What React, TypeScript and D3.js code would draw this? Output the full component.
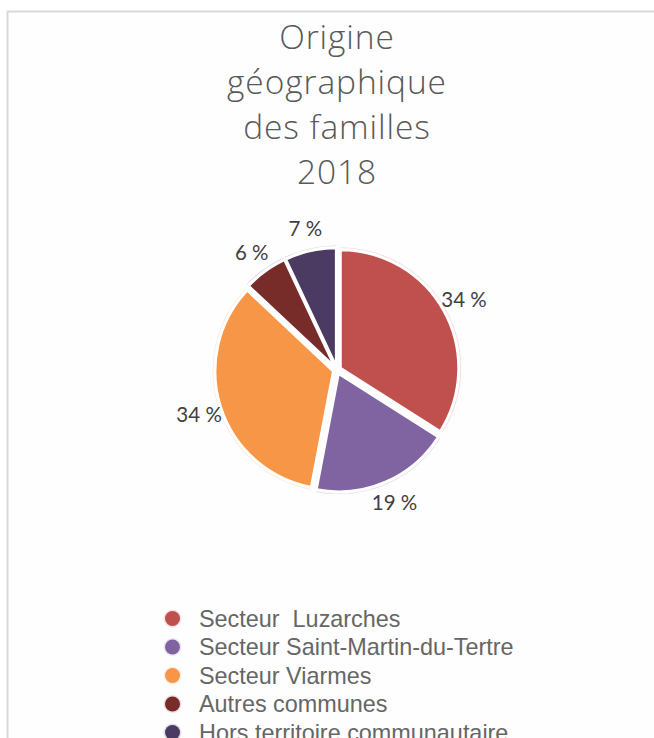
import React from "react";
import * as d3 from "d3";

const titleLines = ["Origine", "géographique", "des familles", "2018"];
const categories = [
  "Secteur  Luzarches",
  "Secteur Saint-Martin-du-Tertre",
  "Secteur Viarmes",
  "Autres communes",
  "Hors territoire communautaire",
];
const values = [34, 19, 34, 6, 7];
const labels = ["34 %", "19 %", "34 %", "6 %", "7 %"];
const colors = ["#c0504d", "#8064a2", "#f79646", "#772c2a", "#4b3a62"];

export default function App() {
  const W = 654, H = 738;
  const cx = 337, cy = 370, r = 118, explode = 4, labelR = 145;
  const pie = d3.pie<number>().sort(null).value((d) => d);
  const arcs = pie(values);
  const arcGen = d3.arc<d3.PieArcDatum<number>>().innerRadius(0).outerRadius(r);
  const ringGen = d3.arc<d3.PieArcDatum<number>>().innerRadius(r + 2).outerRadius(r + 2.6);
  const legendY = d3.scaleLinear().domain([0, 4]).range([626.5, 740.5]);

  return (
    <svg width={W} height={H} style={{ position: "absolute", left: 0, top: 0, background: "#fff" }}>
      <rect x={7.5} y={11.5} width={W} height={H} fill="#fefefe" stroke="#d9d9d9" strokeWidth={2} />
      {titleLines.map((t, i) => (
        <text key={i} x={cx} y={48.5 + i * 45} textAnchor="middle" fontFamily="Open Sans" fontWeight={300} fontSize={33.5} letterSpacing={0.9} fill="#595959">
          {t}
        </text>
      ))}
      <g>
        {arcs.map((a, i) => {
          const mid = (a.startAngle + a.endAngle) / 2;
          const dx = Math.sin(mid) * explode, dy = -Math.cos(mid) * explode;
          return (
            <g key={i} transform={`translate(${cx + dx},${cy + dy})`}>
              <path d={arcGen(a) || ""} fill={colors[i]} stroke="#fff" strokeWidth={2.5} />
              <path d={ringGen(a) || ""} fill={colors[i]} opacity={0.25} />
            </g>
          );
        })}
        {arcs.map((a, i) => {
          const mid = (a.startAngle + a.endAngle) / 2;
          return (
            <text key={i} x={cx + Math.sin(mid) * labelR} y={cy - Math.cos(mid) * labelR} dy="0.35em" textAnchor="middle" fontFamily="Lato" fontSize={20.5} fill="#404040">
              {labels[i]}
            </text>
          );
        })}
      </g>
      {categories.map((c, i) => (
        <g key={i}>
          <circle cx={172.5} cy={legendY(i) - 8} r={7.5} fill={colors[i]} stroke={colors[i]} strokeOpacity={0.15} strokeWidth={3} />
          <text x={199} y={legendY(i)} fontFamily="Liberation Sans" fontSize={23.4} fill="#666" style={{ whiteSpace: "pre" }}>
            {c}
          </text>
        </g>
      ))}
    </svg>
  );
}
